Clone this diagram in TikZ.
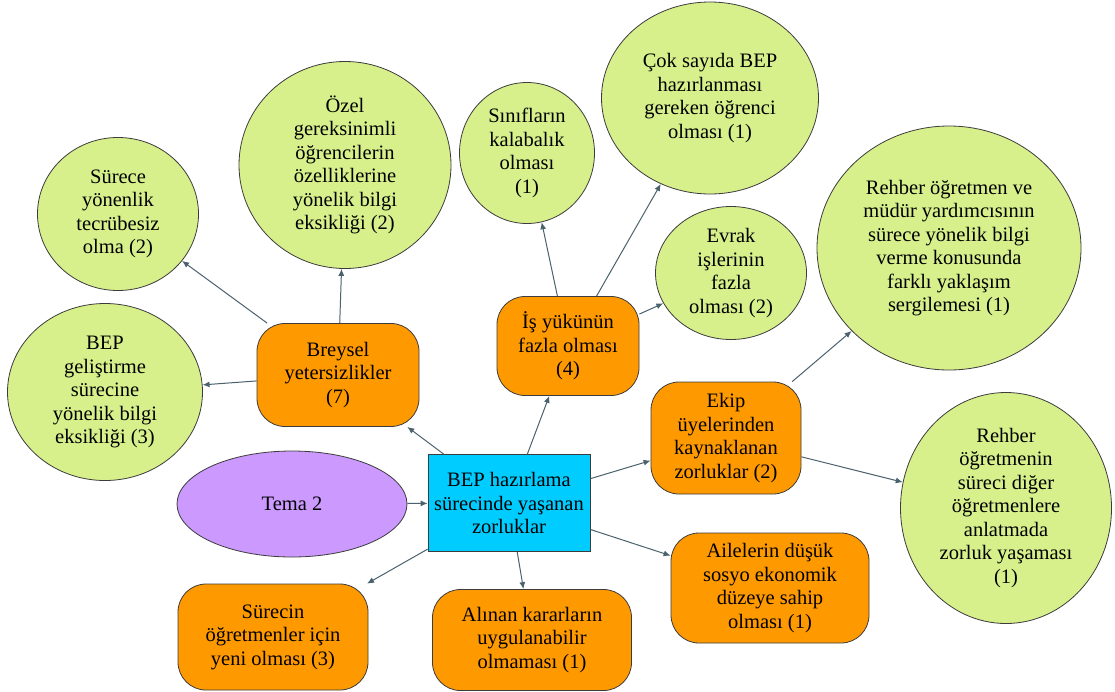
\documentclass[tikz,border=0pt]{standalone}
\usepackage{fontspec}
\setmainfont{Liberation Serif}
\usepackage{tikz}
\usepackage{xcolor}
\usetikzlibrary{shapes.geometric, arrows.meta, positioning}
\definecolor{lightgreen}{RGB}{215,240,140}
\definecolor{boxorange}{RGB}{255,153,0}
\definecolor{boxcyan}{RGB}{0,204,255}
\definecolor{lilac}{RGB}{204,153,255}
\definecolor{linegray}{RGB}{74,98,110}
\definecolor{edgegray}{RGB}{60,60,60}

\begin{document}
\begin{tikzpicture}[x=1pt, y=-1pt,
    txt/.style={font=\fontsize{20.5}{23.5}\selectfont, align=center, inner sep=0pt, text=black},
    bubble/.style={txt, ellipse, draw=edgegray, line width=0.8pt, fill=lightgreen},
    topic/.style={txt, rectangle, rounded corners=28pt, draw=edgegray, line width=0.8pt, fill=boxorange},
    link/.style={-{Latex[length=7pt,width=6pt]}, draw=linegray, line width=1pt}]
    \path[use as bounding box, fill=white] (0,0) rectangle (1115,691);

    % centre
    \node[txt, ellipse, draw=edgegray, line width=0.8pt, fill=lilac, minimum width=230pt, minimum height=106pt] (tema) at (292,504) {Tema 2};
    \node[txt, rectangle, draw=edgegray, line width=0.8pt, fill=boxcyan, minimum width=162pt, minimum height=97pt] (bep) at (509,503) {BEP hazırlama\\sürecinde yaşanan\\zorluklar};

    % categories
    \node[topic, minimum width=162pt, minimum height=103pt] (breysel) at (338,375) {Breysel\\yetersizlikler\\(7)};
    \node[topic, minimum width=142pt, minimum height=99pt] (isyuku) at (568,346) {İş yükünün\\fazla olması\\(4)};
    \node[topic, minimum width=150pt, minimum height=112pt] (ekip) at (726,438) {Ekip\\üyelerinden\\kaynaklanan\\zorluklar (2)};
    \node[topic, minimum width=198pt, minimum height=110pt] (aile) at (770,588) {Ailelerin düşük\\sosyo ekonomik\\düzeye sahip\\olması (1)};
    \node[topic, minimum width=199pt, minimum height=101pt] (karar) at (532,640) {Alınan kararların\\uygulanabilir\\olmaması (1)};
    \node[topic, minimum width=190pt, minimum height=106pt] (yeni) at (273,637) {Sürecin\\öğretmenler için\\yeni olması (3)};

    % sub-themes
    \node[bubble, minimum width=161pt, minimum height=153pt] (tecrube) at (118,214) {Sürece\\yönenlik\\tecrübesiz\\olma (2)};
    \node[bubble, minimum width=195pt, minimum height=177pt] (gelistirme) at (105,392) {BEP\\geliştirme\\sürecine\\yönelik bilgi\\eksikliği (3)};
    \node[bubble, minimum width=212pt, minimum height=207pt] (ozel) at (345,165) {Özel\\gereksinimli\\öğrencilerin\\özelliklerine\\yönelik bilgi\\eksikliği (2)};
    \node[bubble, minimum width=135pt, minimum height=141pt] (sinif) at (527,153) {Sınıfların\\kalabalık\\olması\\(1)};
    \node[bubble, minimum width=217pt, minimum height=192pt] (coksayi) at (710,98) {Çok sayıda BEP\\hazırlanması\\gereken öğrenci\\olması (1)};
    \node[bubble, minimum width=151pt, minimum height=133pt] (evrak) at (731,273) {Evrak\\işlerinin\\fazla\\olması (2)};
    \node[bubble, minimum width=264pt, minimum height=244pt] (rehberbilgi) at (949,248) {Rehber öğretmen ve\\müdür yardımcısının\\sürece yönelik bilgi\\verme konusunda\\farklı yaklaşım\\sergilemesi (1)};
    \node[bubble, minimum width=211pt, minimum height=231pt] (rehberanlat) at (1006,508) {Rehber\\öğretmenin\\süreci diğer\\öğretmenlere\\anlatmada\\zorluk yaşaması\\(1)};

    % arrows
    \draw[link] (tema) -- (bep);
    \draw[link] (bep) -- (breysel);
    \draw[link] (bep) -- (isyuku);
    \draw[link] (bep) -- (ekip);
    \draw[link] (bep) -- (aile);
    \draw[link] (bep) -- (karar);
    \draw[link] (bep) -- (yeni);
    \draw[link] (breysel) -- (tecrube);
    \draw[link] (breysel) -- (gelistirme);
    \draw[link] (breysel) -- (ozel);
    \draw[link] (isyuku) -- (sinif);
    \draw[link] (isyuku) -- (coksayi);
    \draw[link] (isyuku) -- (evrak);
    \draw[link] (ekip) -- (rehberbilgi);
    \draw[link] (ekip) -- (rehberanlat);
\end{tikzpicture}
\end{document}
